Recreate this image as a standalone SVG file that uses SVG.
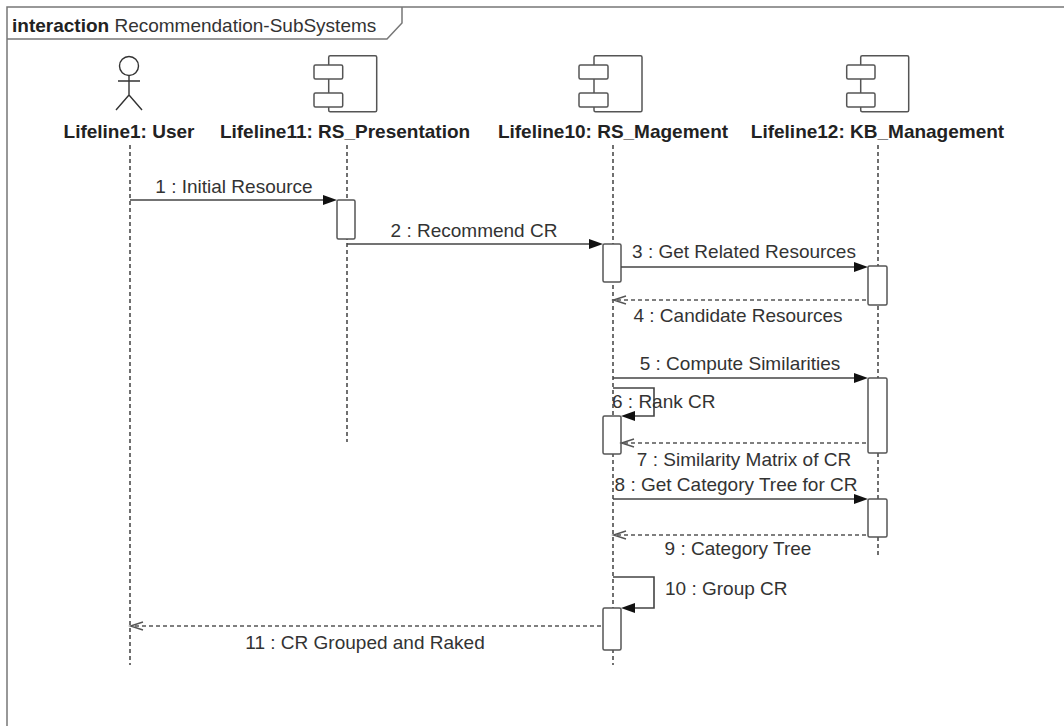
<svg xmlns="http://www.w3.org/2000/svg" width="1064" height="726" viewBox="0 0 1064 726">
<style>
.frame{fill:none;stroke:#777;stroke-width:1.5}
.t{font-family:"Liberation Sans",Arial,sans-serif;font-size:19px;fill:#333}
.b{font-weight:bold;fill:#222}
.ll{stroke:#111;stroke-width:1.2;stroke-dasharray:4,3;fill:none}
.icon{fill:#fff;stroke:#555;stroke-width:1.5}
.act{fill:#fff;stroke:#555;stroke-width:1.5}
.msg{fill:none;stroke:#444;stroke-width:1.6}
.ret{fill:none;stroke:#555;stroke-width:1.4;stroke-dasharray:4,3}
.head{fill:#111}
.open{fill:none;stroke:#555;stroke-width:1.4}
</style>
<rect width="1064" height="726" fill="#fff"/>
<g id="frame">
<path class="frame" d="M7,726 V7 H1064"/>
<path class="frame" d="M7,39 H387 L402,23 V7"/>
<text class="t" x="12" y="31.5"><tspan class="b">interaction</tspan> Recommendation-SubSystems</text>
</g>
<g id="user">
<circle cx="129" cy="66" r="9.5" fill="#fff" stroke="#333" stroke-width="1.4"/>
<path d="M129,75.5 V95 M118,81 H140 M129,95 L116,110 M129,95 L142,110" fill="none" stroke="#333" stroke-width="1.4"/>
<text class="t b" x="129" y="138" text-anchor="middle">Lifeline1: User</text>
<line class="ll" x1="130" y1="145" x2="130" y2="665"/>
</g>
<g id="rs_presentation">
<rect class="icon" x="328.7" y="55.7" width="48" height="56" rx="1.5"/>
<rect class="icon" x="314" y="65" width="28.7" height="14" rx="1.5"/>
<rect class="icon" x="314" y="93" width="28.7" height="14" rx="1.5"/>
<text class="t b" x="345" y="138" text-anchor="middle">Lifeline11: RS_Presentation</text>
<line class="ll" x1="347" y1="145" x2="347" y2="442"/>
</g>
<g id="rs_magement">
<rect class="icon" x="594" y="55.7" width="48" height="56" rx="1.5"/>
<rect class="icon" x="579" y="65" width="29" height="14" rx="1.5"/>
<rect class="icon" x="579" y="93" width="29" height="14" rx="1.5"/>
<text class="t b" x="613" y="138" text-anchor="middle">Lifeline10: RS_Magement</text>
<line class="ll" x1="613" y1="145" x2="613" y2="665"/>
</g>
<g id="kb_management">
<rect class="icon" x="860.7" y="55.7" width="48" height="56" rx="1.5"/>
<rect class="icon" x="846.7" y="65" width="28.3" height="14" rx="1.5"/>
<rect class="icon" x="846.7" y="93" width="28.3" height="14" rx="1.5"/>
<text class="t b" x="877.5" y="138" text-anchor="middle">Lifeline12: KB_Management</text>
<line class="ll" x1="878" y1="145" x2="878" y2="557"/>
</g>
<g id="activations">
<rect class="act" x="337" y="200" width="18" height="39" rx="1.5"/>
<rect class="act" x="603" y="244" width="18" height="38" rx="1.5"/>
<rect class="act" x="868" y="266" width="19" height="39" rx="1.5"/>
<rect class="act" x="868" y="378" width="19" height="75" rx="1.5"/>
<rect class="act" x="603" y="416" width="18" height="38" rx="1.5"/>
<rect class="act" x="868" y="499" width="19" height="38" rx="1.5"/>
<rect class="act" x="603" y="608" width="18" height="42" rx="1.5"/>
</g>
<g id="connectors">
<line class="msg" x1="130" y1="200" x2="325" y2="200"/>
<path class="head" d="M337,200 L323,195 L323,205 Z"/>
<text class="t" x="234" y="193" text-anchor="middle">1 : Initial Resource</text>

<line class="msg" x1="347" y1="244" x2="591" y2="244"/>
<path class="head" d="M603,244 L589,239 L589,249 Z"/>
<text class="t" x="474" y="237" text-anchor="middle">2 : Recommend CR</text>

<line class="msg" x1="621" y1="267" x2="856" y2="267"/>
<path class="head" d="M868,267 L854,262 L854,272 Z"/>
<text class="t" x="744" y="258" text-anchor="middle">3 : Get Related Resources</text>

<line class="ret" x1="866" y1="300" x2="614" y2="300"/>
<path class="open" d="M626,296 L613.5,300 L626,304"/>
<text class="t" x="738" y="322" text-anchor="middle">4 : Candidate Resources</text>

<line class="msg" x1="613" y1="378" x2="856" y2="378"/>
<path class="head" d="M868,378 L854,373 L854,383 Z"/>
<text class="t" x="740" y="370" text-anchor="middle">5 : Compute Similarities</text>

<path class="msg" d="M613,388 H654 V416 H633"/>
<path class="head" d="M621,416 L635,411 L635,421 Z"/>
<text class="t" x="612" y="408">6 : Rank CR</text>

<line class="ret" x1="866" y1="443" x2="622" y2="443"/>
<path class="open" d="M634,439 L621.5,443 L634,447"/>
<text class="t" x="744" y="466" text-anchor="middle">7 : Similarity Matrix of CR</text>

<line class="msg" x1="613" y1="499" x2="856" y2="499"/>
<path class="head" d="M868,499 L854,494 L854,504 Z"/>
<text class="t" x="736" y="490.5" text-anchor="middle">8 : Get Category Tree for CR</text>

<line class="ret" x1="866" y1="535" x2="614" y2="535"/>
<path class="open" d="M626,531 L613.5,535 L626,539"/>
<text class="t" x="738" y="555" text-anchor="middle">9 : Category Tree</text>

<path class="msg" d="M613,577 H654 V608 H633"/>
<path class="head" d="M621,608 L635,603 L635,613 Z"/>
<text class="t" x="665" y="595">10 : Group CR</text>

<line class="ret" x1="601" y1="626" x2="131" y2="626"/>
<path class="open" d="M143,622 L130.5,626 L143,630"/>
<text class="t" x="365" y="649" text-anchor="middle">11 : CR Grouped and Raked</text>
</g>
</svg>
